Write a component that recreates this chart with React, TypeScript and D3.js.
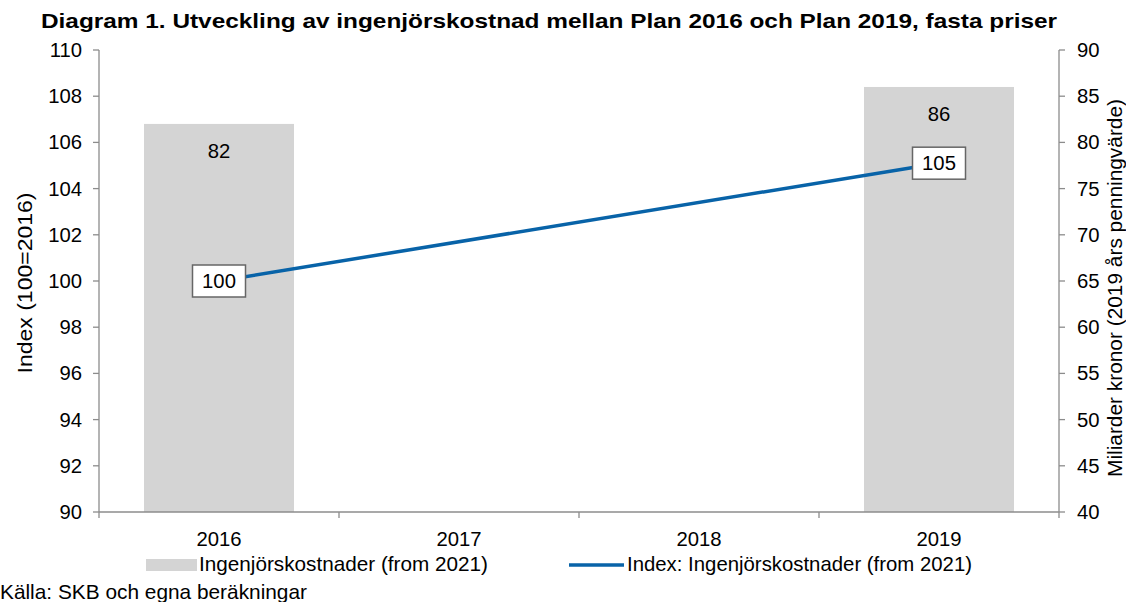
import React from "react";
import * as d3 from "d3";

const categories = ["2016", "2017", "2018", "2019"];
const barYears = ["2016", "2019"];
const barValues = [82, 86];
const lineYears = ["2016", "2019"];
const lineValues = [100, 105.1];
const lineLabels = ["100", "105"];
const leftTicks = [90, 92, 94, 96, 98, 100, 102, 104, 106, 108, 110];
const rightTicks = [40, 45, 50, 55, 60, 65, 70, 75, 80, 85, 90];

const W = 1126;
const H = 602;
const M = { left: 99, right: 1059, top: 50, bottom: 512 };
const FONT = "'Liberation Sans', Arial, sans-serif";
const FS = 20.3;
const AXIS = "#8c8c8c";
const BAR = "#d4d4d4";
const BLUE = "#0863a8";

export default function App() {
  const x = d3.scaleBand<string>().domain(categories).range([M.left, M.right]).paddingInner(0).paddingOuter(0);
  const yL = d3.scaleLinear().domain([90, 110]).range([M.bottom, M.top]);
  const yR = d3.scaleLinear().domain([40, 90]).range([M.bottom, M.top]);
  const bw = x.bandwidth() * 0.625;
  const cx = (c: string) => (x(c) as number) + x.bandwidth() / 2;
  const line = d3
    .line<number>()
    .x((_, i) => cx(lineYears[i]))
    .y((d) => yL(d));
  const boundaries = categories.map((c) => x(c) as number).concat([M.right]);
  const mid = (M.top + M.bottom) / 2;

  return (
    <svg width={W} height={H} style={{ position: "absolute", left: 0, top: 0, background: "#fff" }} fontFamily={FONT}>
      <text x={41} y={28} fontSize={20.5} fontWeight="bold" fill="#000" textLength={1016} lengthAdjust="spacingAndGlyphs">
        Diagram 1. Utveckling av ingenjörskostnad mellan Plan 2016 och Plan 2019, fasta priser
      </text>

      {barYears.map((c, i) => (
        <g key={c}>
          <rect x={cx(c) - bw / 2} y={yR(barValues[i])} width={bw} height={M.bottom - yR(barValues[i])} fill={BAR} />
          <text x={cx(c)} y={yR(barValues[i]) + 34} fontSize={FS} textAnchor="middle" fill="#000">
            {barValues[i]}
          </text>
        </g>
      ))}

      {/* left axis */}
      <line x1={M.left} x2={M.left} y1={M.top} y2={M.bottom} stroke={AXIS} strokeWidth={1.3} />
      {leftTicks.map((t) => (
        <g key={"l" + t}>
          <line x1={M.left - 6} x2={M.left} y1={yL(t)} y2={yL(t)} stroke={AXIS} strokeWidth={1.3} />
          <text x={82} y={yL(t) + 7} fontSize={FS} textAnchor="end" fill="#000">
            {t}
          </text>
        </g>
      ))}
      {/* right axis */}
      <line x1={M.right} x2={M.right} y1={M.top} y2={M.bottom} stroke={AXIS} strokeWidth={1.3} />
      {rightTicks.map((t) => (
        <g key={"r" + t}>
          <line x1={M.right} x2={M.right + 6} y1={yR(t)} y2={yR(t)} stroke={AXIS} strokeWidth={1.3} />
          <text x={1077} y={yR(t) + 7} fontSize={FS} textAnchor="start" fill="#000">
            {t}
          </text>
        </g>
      ))}
      {/* bottom axis */}
      <line x1={M.left} x2={M.right} y1={M.bottom} y2={M.bottom} stroke={AXIS} strokeWidth={1.3} />
      {boundaries.map((b, i) => (
        <line key={"b" + i} x1={b} x2={b} y1={M.bottom} y2={M.bottom + 6} stroke={AXIS} strokeWidth={1.3} />
      ))}
      {categories.map((c) => (
        <text key={"c" + c} x={cx(c)} y={546} fontSize={FS} textAnchor="middle" fill="#000">
          {c}
        </text>
      ))}

      {/* axis titles */}
      <text
        transform={`translate(32,${mid + 2}) rotate(-90)`}
        fontSize={FS}
        textAnchor="middle"
        fill="#000"
        textLength={181}
        lengthAdjust="spacingAndGlyphs"
      >
        Index (100=2016)
      </text>
      <text
        transform={`translate(1122,${mid + 7}) rotate(-90)`}
        fontSize={FS}
        textAnchor="middle"
        fill="#000"
        textLength={378}
        lengthAdjust="spacingAndGlyphs"
      >
        Miliarder kronor (2019 års penningvärde)
      </text>

      {/* line */}
      <path d={line(lineValues) || ""} fill="none" stroke={BLUE} strokeWidth={3.5} />
      {lineYears.map((c, i) => (
        <g key={"ll" + c}>
          <rect x={cx(c) - 26.5} y={yL(lineValues[i]) - 16} width={53} height={32} fill="#fff" stroke="#666" strokeWidth={1.5} />
          <text x={cx(c)} y={yL(lineValues[i]) + 7} fontSize={FS} textAnchor="middle" fill="#000">
            {lineLabels[i]}
          </text>
        </g>
      ))}

      {/* legend */}
      <rect x={146} y={559} width={51} height={12} fill={BAR} />
      <text x={199} y={571} fontSize={FS} fill="#000" textLength={289} lengthAdjust="spacingAndGlyphs">
        Ingenjörskostnader (from 2021)
      </text>
      <line x1={569} x2={624} y1={565} y2={565} stroke={BLUE} strokeWidth={3.5} />
      <text x={627} y={571} fontSize={FS} fill="#000" textLength={345} lengthAdjust="spacingAndGlyphs">
        Index: Ingenjörskostnader (from 2021)
      </text>

      <text x={0} y={599} fontSize={FS} fill="#000" textLength={307} lengthAdjust="spacingAndGlyphs">
        Källa: SKB och egna beräkningar
      </text>
    </svg>
  );
}
